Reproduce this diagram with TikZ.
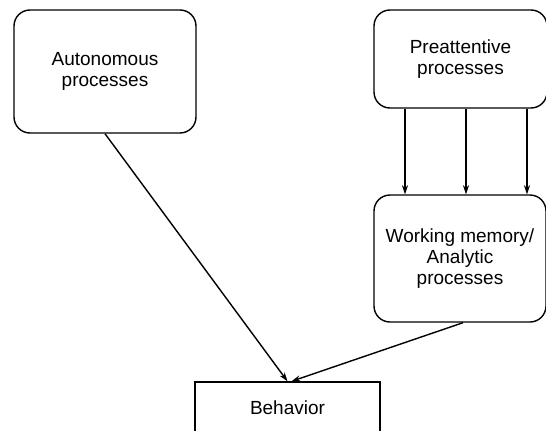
\documentclass[tikz,border=0pt]{standalone}
\usepackage{fontspec}
\setmainfont{Liberation Sans}
\usetikzlibrary{arrows.meta}
\usetikzlibrary{positioning}

\begin{document}
\begin{tikzpicture}[x=1pt,y=1pt,line width=0.7pt,>={Stealth[length=4.5pt,width=3pt]},
    proc/.style={draw,rounded corners=8pt,align=center,inner sep=0pt,font=\fontsize{9.5}{10.5}\selectfont},
    outbox/.style={draw,align=center,inner sep=0pt,font=\fontsize{9.5}{10.5}\selectfont}]
    \useasboundingbox (0,0) rectangle (273,215);

    \node[proc,minimum width=91pt,minimum height=61.5pt] (aut) at (52.5,179.25) {Autonomous\\processes};
    \node[proc,minimum width=86.5pt,minimum height=49pt] (pre) at (230.25,185.5) {Preattentive\\processes};
    \node[proc,minimum width=86pt,minimum height=63.5pt] (wm) at (230,85.75) {Working memory/\\Analytic\\processes};
    \node[outbox,minimum width=92.5pt,minimum height=26pt,text depth=0pt] (beh) at (143.75,11) {Behavior};

    % preattentive feeds working memory
    \foreach \x in {202.5,233,263.5}
        \draw[->] (pre.south -| \x,0) -- (wm.north -| \x,0);

    \draw[->] (aut.south) -- (beh.north);
    \draw[->] ([xshift=1.5pt]wm.south) -- ([xshift=2pt]beh.north);
\end{tikzpicture}
\end{document}
